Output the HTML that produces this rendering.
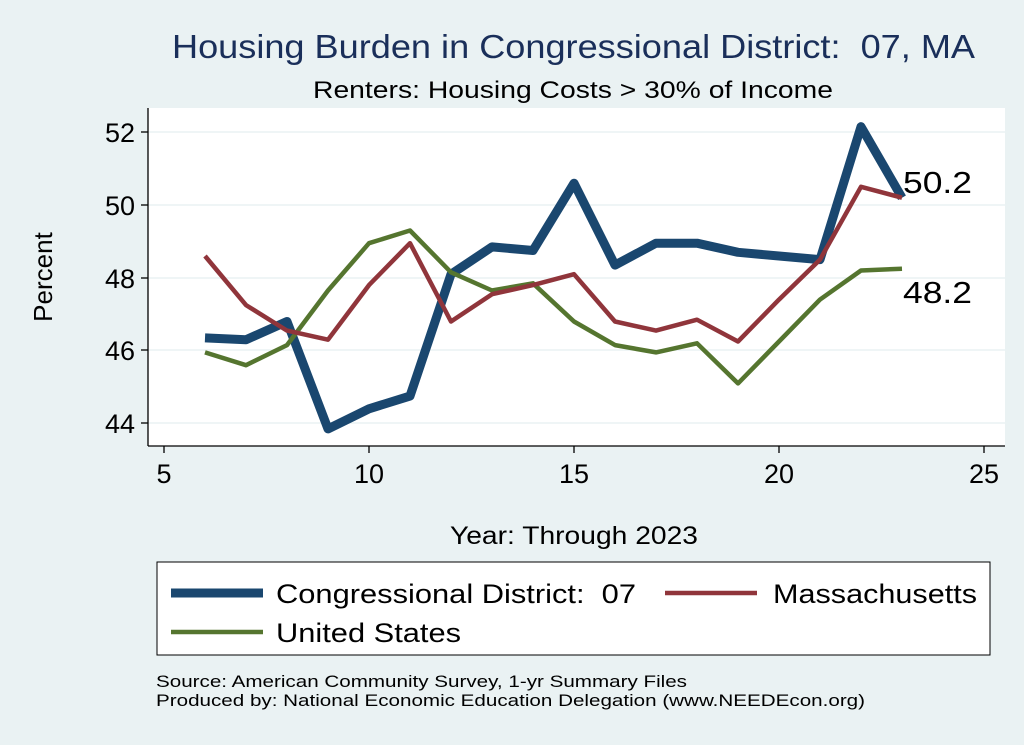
<!DOCTYPE html>
<html><head><meta charset="utf-8"><style>
body{margin:0;background:#eaf2f3;}
svg{display:block;font-family:"Liberation Sans",sans-serif;}
</style></head><body>
<svg id="s" width="1024" height="745" xmlns="http://www.w3.org/2000/svg">
<rect width="1024" height="745" fill="#eaf2f3"/>
<text x="172" y="58" font-size="33" fill="#1a2f5a" textLength="803" lengthAdjust="spacingAndGlyphs">Housing Burden in Congressional District:&#160; 07, MA</text>
<text x="313" y="98" font-size="24" fill="#000" textLength="520" lengthAdjust="spacingAndGlyphs">Renters: Housing Costs &gt; 30% of Income</text>
<rect x="148" y="108" width="857" height="338" fill="#fff"/>
<g stroke="#eaf2f3" stroke-width="1.5">
<line x1="148" x2="1005" y1="132" y2="132"/><line x1="148" x2="1005" y1="205" y2="205"/>
<line x1="148" x2="1005" y1="278" y2="278"/><line x1="148" x2="1005" y1="350" y2="350"/>
<line x1="148" x2="1005" y1="423" y2="423"/></g>
<g stroke="#000" stroke-width="1.3">
<line x1="148" x2="148" y1="108" y2="446"/><line x1="148" x2="1005" y1="446" y2="446"/>
<line x1="141" x2="148" y1="132" y2="132"/><line x1="141" x2="148" y1="205" y2="205"/>
<line x1="141" x2="148" y1="278" y2="278"/><line x1="141" x2="148" y1="350" y2="350"/>
<line x1="141" x2="148" y1="423" y2="423"/>
<line x1="164" x2="164" y1="446" y2="453"/><line x1="369" x2="369" y1="446" y2="453"/>
<line x1="574" x2="574" y1="446" y2="453"/><line x1="779" x2="779" y1="446" y2="453"/>
<line x1="984" x2="984" y1="446" y2="453"/></g>
<g font-size="27" text-anchor="end"><text x="135" y="142">52</text><text x="135" y="215">50</text><text x="135" y="288">48</text><text x="135" y="360">46</text><text x="135" y="433">44</text></g>
<g font-size="27" text-anchor="middle"><text x="164" y="483">5</text><text x="369" y="483">10</text><text x="574" y="483">15</text><text x="779" y="483">20</text><text x="984" y="483">25</text></g>
<text x="52" y="277" font-size="26" text-anchor="middle" transform="rotate(-90 52 277)">Percent</text>
<text x="450" y="544" font-size="25" textLength="248" lengthAdjust="spacingAndGlyphs">Year: Through 2023</text>
<g id="lines" fill="none" stroke-linejoin="round"></g>
<text x="903" y="193" font-size="31" textLength="69" lengthAdjust="spacingAndGlyphs">50.2</text>
<text x="903" y="303" font-size="31" textLength="69" lengthAdjust="spacingAndGlyphs">48.2</text>
<rect x="157" y="562" width="833" height="93" fill="#fff" stroke="#000" stroke-width="1"/>
<line x1="171" x2="263" y1="593" y2="593" stroke="#1a476f" stroke-width="9"/>
<text x="276" y="603" font-size="27" textLength="360" lengthAdjust="spacingAndGlyphs">Congressional District:&#160; 07</text>
<line x1="665" x2="757" y1="593" y2="593" stroke="#90353b" stroke-width="4.5"/>
<text x="773" y="603" font-size="27" textLength="204" lengthAdjust="spacingAndGlyphs">Massachusetts</text>
<line x1="171" x2="263" y1="632" y2="632" stroke="#55752f" stroke-width="4.5"/>
<text x="276" y="642" font-size="27" textLength="185" lengthAdjust="spacingAndGlyphs">United States</text>
<text x="156" y="687" font-size="17" textLength="531" lengthAdjust="spacingAndGlyphs">Source: American Community Survey, 1-yr Summary Files</text>
<text x="156" y="706" font-size="17" textLength="709" lengthAdjust="spacingAndGlyphs">Produced by: National Economic Education Delegation (www.NEEDEcon.org)</text>
</svg>
<script>
var cd=[46.35,46.3,46.8,43.85,44.4,44.75,48.1,48.85,48.75,50.6,48.35,48.95,48.95,48.7,48.6,48.5,52.15,50.2];
var ma=[48.6,47.25,46.55,46.3,47.8,48.95,46.8,47.55,47.8,48.1,46.8,46.55,46.85,46.25,47.4,48.5,50.5,50.2];
var us=[45.95,45.6,46.15,47.65,48.95,49.3,48.15,47.65,47.85,46.8,46.15,45.95,46.2,45.1,46.25,47.4,48.2,48.25];
function pts(a){return a.map(function(v,i){return (164+(i+1)*41).toFixed(1)+","+(205-(v-50)*36.4).toFixed(1)}).join(" ");}
var g=document.getElementById("lines"),ns="http://www.w3.org/2000/svg";
[[cd,"#1a476f",9],[us,"#55752f",4.5],[ma,"#90353b",4.5]].forEach(function(d){var p=document.createElementNS(ns,"polyline");p.setAttribute("points",pts(d[0]));p.setAttribute("stroke",d[1]);p.setAttribute("stroke-width",d[2]);g.appendChild(p);});
</script>
</body></html>
